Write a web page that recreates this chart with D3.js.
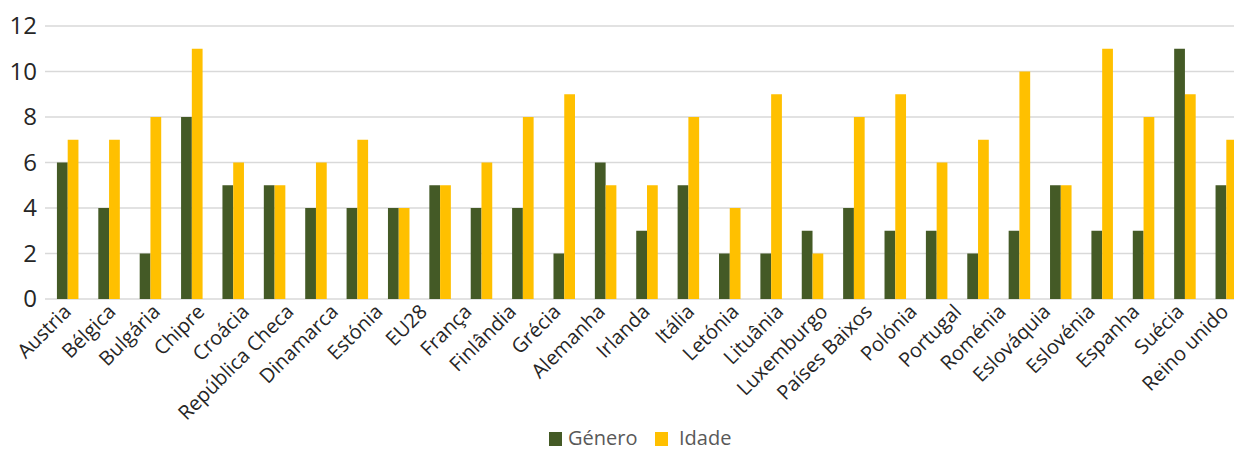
<!DOCTYPE html>
<html>
<head>
<meta charset="utf-8">
<script src="https://cdn.jsdelivr.net/npm/d3@7"></script>
<style>
  body { margin: 0; background: #fff; }
  text { font-family: "Open Sans", "Noto Sans", sans-serif; }
</style>
</head>
<body>
<div class="canvas"></div>
<script>
// bar values, one pair per group (29 groups in the picture)
const genero = [6, 4, 2, 8, 5, 5, 4, 4, 4, 5, 4, 4, 2, 6, 3, 5, 2, 2, 3, 4, 3, 3, 2, 3, 5, 3, 3, 11, 5];
const idade  = [7, 7, 8, 11, 6, 5, 6, 7, 4, 5, 6, 8, 9, 5, 5, 8, 4, 9, 2, 8, 9, 6, 7, 10, 5, 11, 8, 9, 7];

// axis labels (27 of them, spread over the same width)
const tickLabels = ['Austria', 'Bélgica', 'Bulgária', 'Chipre', 'Croácia', 'República Checa',
  'Dinamarca', 'Estónia', 'EU28', 'França', 'Finlândia', 'Grécia', 'Alemanha', 'Irlanda',
  'Itália', 'Letónia', 'Lituânia', 'Luxemburgo', 'Países Baixos', 'Polónia', 'Portugal',
  'Roménia', 'Eslováquia', 'Eslovénia', 'Espanha', 'Suécia', 'Reino unido'];

const yTicks = [0, 2, 4, 6, 8, 10, 12];
const seriesNames = ['Género', 'Idade'];
const seriesColors = ['#445a26', '#ffc000'];

const width = 1234, height = 450;

const svg = d3.select('.canvas')
  .append('svg')
  .attr('width', width)
  .attr('height', height)

const y = d3.scaleLinear()
  .domain([0, 12])
  .range([299, 26])

const x0 = d3.scaleBand()
  .domain(d3.range(genero.length))
  .range([47, 1247])
  .paddingInner(0.48)
  .paddingOuter(0.24)

const x1 = d3.scaleBand()
  .domain([0, 1])
  .range([0, x0.bandwidth()])

const xLabels = d3.scaleBand()
  .domain(tickLabels)
  .range([46, 1248])

// gridlines
svg.append('g')
  .selectAll('line')
  .data(yTicks)
  .join('line')
  .attr('x1', 45)
  .attr('x2', width)
  .attr('y1', d => y(d))
  .attr('y2', d => y(d))
  .attr('stroke', '#d9d9d9')
  .attr('stroke-width', 1.3)

// y axis labels
const yAxis = svg.append('g')
  .attr('transform', 'translate(37,0)')
  .call(d3.axisLeft(y).tickValues(yTicks).tickSize(0).tickPadding(0))
yAxis.select('.domain').remove()
yAxis.selectAll('text')
  .attr('font-size', 24)
  .attr('fill', '#262626')
  .style('font-family', '"Open Sans", sans-serif')

// bars
const groups = svg.append('g')
  .selectAll('g')
  .data(genero.map((g, i) => [g, idade[i]]))
  .join('g')
  .attr('transform', (d, i) => `translate(${x0(i)},0)`)

groups.selectAll('rect')
  .data(d => d)
  .join('rect')
  .attr('x', (d, j) => x1(j))
  .attr('width', x1.bandwidth())
  .attr('y', d => y(d))
  .attr('height', d => y(0) - y(d))
  .attr('fill', (d, j) => seriesColors[j])

// x labels, rotated
const xAxis = svg.append('g')
  .attr('transform', 'translate(0,299)')
  .call(d3.axisBottom(xLabels).tickSize(0).tickPadding(0))
xAxis.select('.domain').remove()
xAxis.selectAll('text')
  .attr('font-size', 20)
  .attr('fill', '#262626')
  .attr('text-anchor', 'end')
  .attr('dy', 0)
  .attr('transform', 'translate(4,14) rotate(-45)')
  .style('font-family', '"Open Sans", sans-serif')

// legend
const legend = svg.append('g')
const legendX = [549, 655];
seriesNames.forEach((name, i) => {
  legend.append('rect')
    .attr('x', legendX[i])
    .attr('y', 432)
    .attr('width', 13)
    .attr('height', 14)
    .attr('fill', seriesColors[i])
  legend.append('text')
    .attr('x', legendX[i] + (i === 0 ? 19 : 24))
    .attr('y', 445)
    .attr('font-size', 20)
    .attr('fill', '#595959')
    .text(name)
})
</script>
</body>
</html>
